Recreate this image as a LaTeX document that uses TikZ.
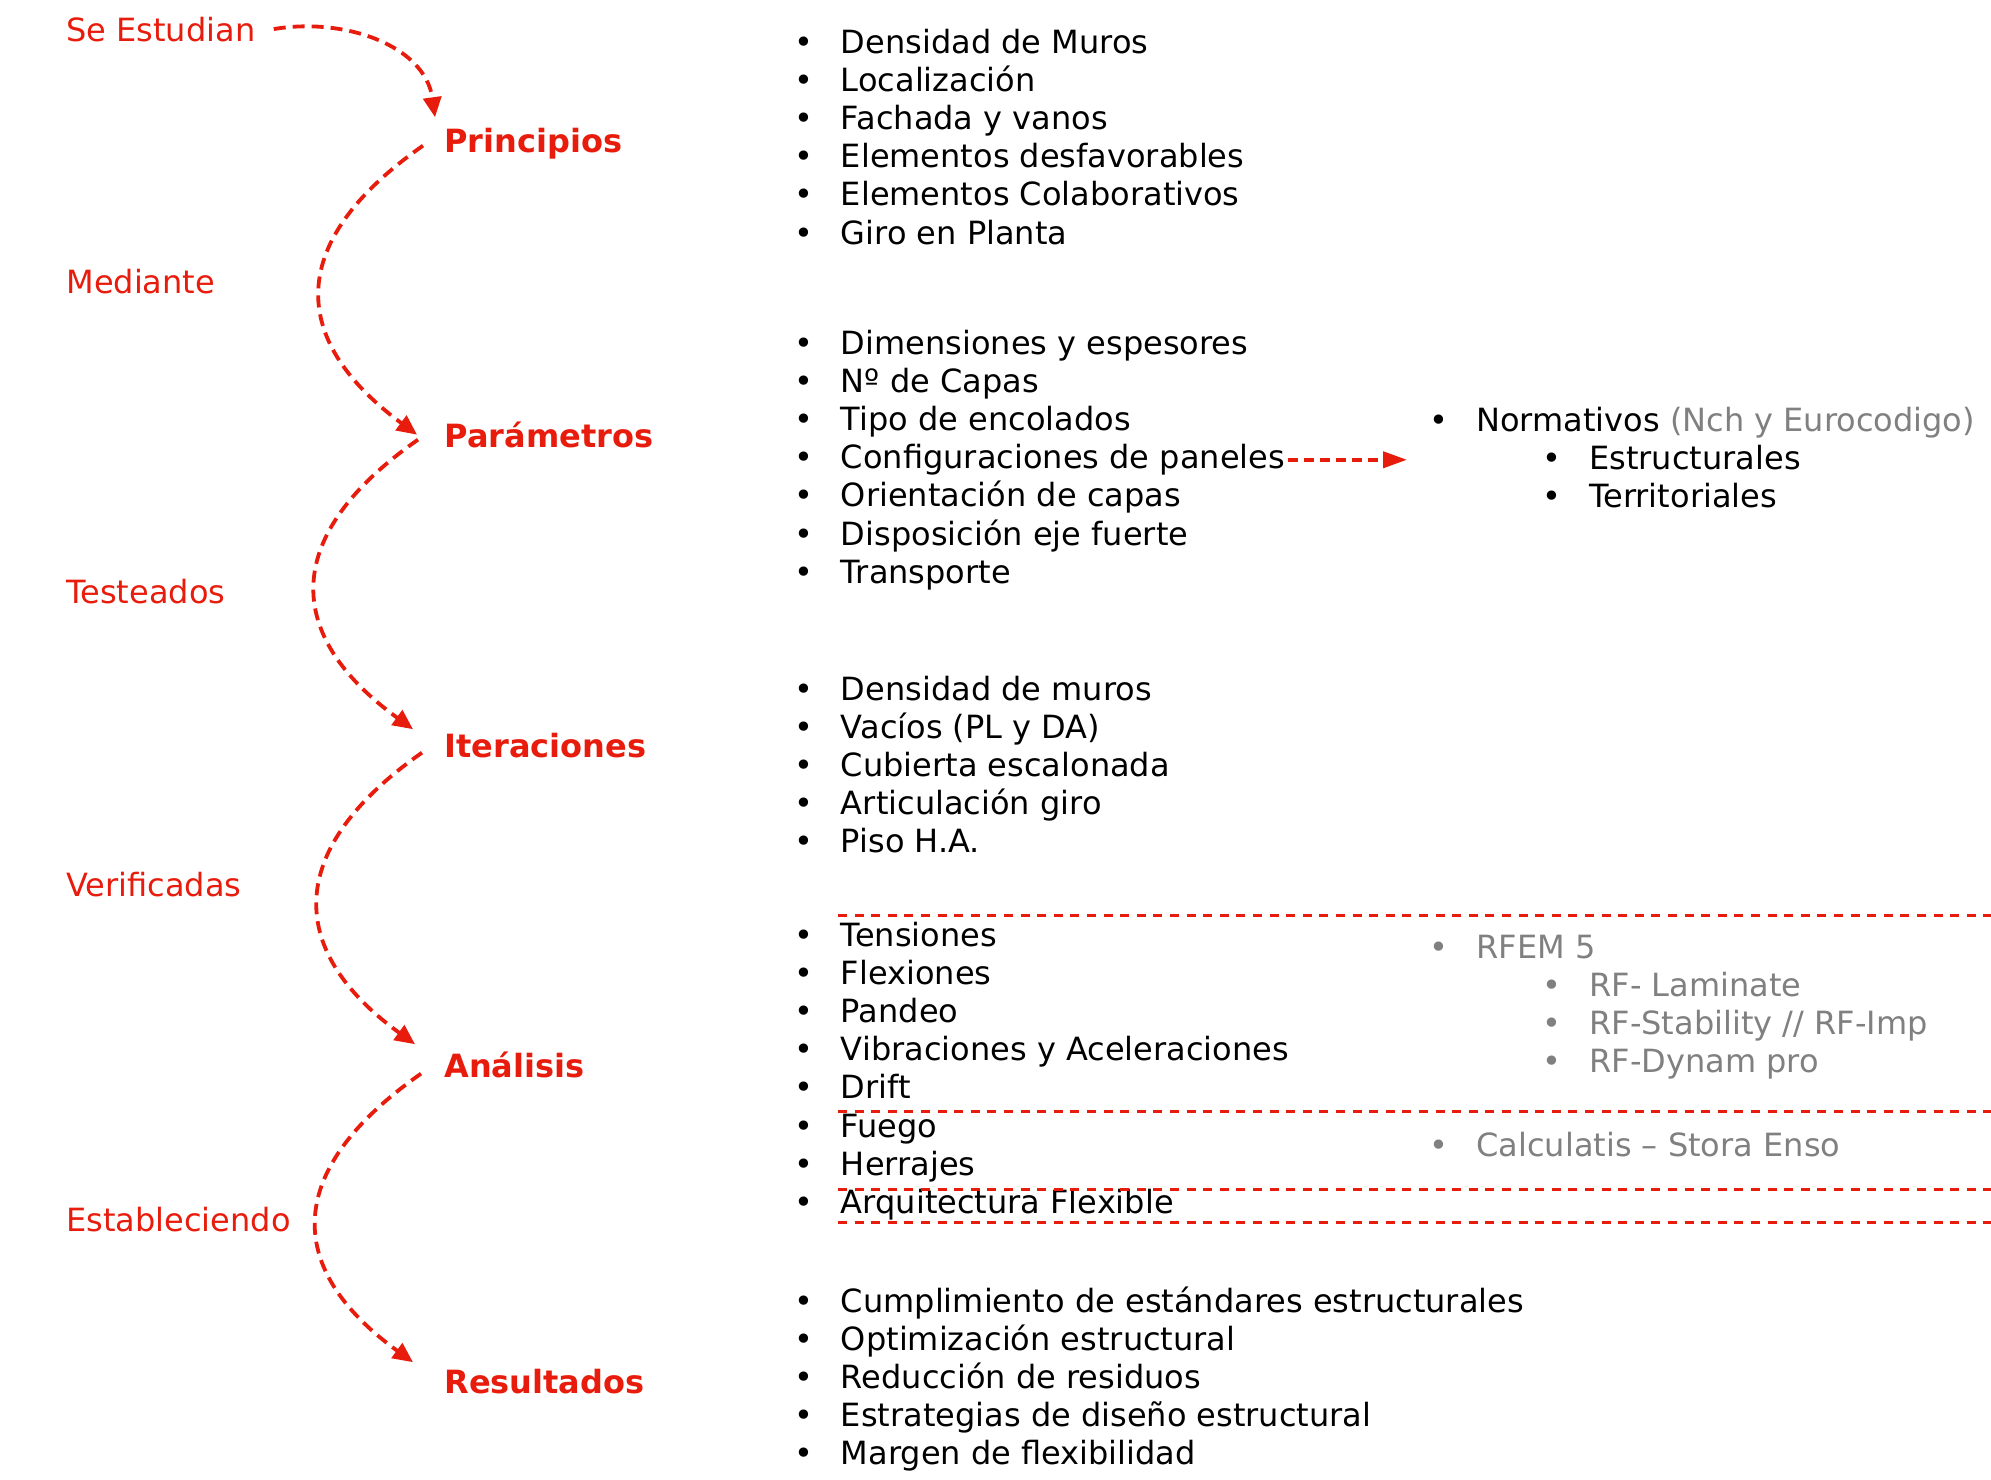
\documentclass[tikz,border=0pt]{standalone}
\usepackage{fontspec}
\setmainfont{DejaVu Sans}
\usetikzlibrary{arrows.meta}
\definecolor{rojo}{RGB}{232,28,12}
\definecolor{gris}{RGB}{128,128,128}
\newcommand{\bul}{\makebox[23.5pt][l]{\textbullet}}
\newcommand{\subbul}{\hspace*{56.5pt}\bul}
\tikzstyle{verbnode}  = [text=rojo, inner sep=0pt, anchor=base west, font=\fontsize{16}{19.1}\selectfont]
\tikzstyle{stagenode} = [text=rojo, inner sep=0pt, anchor=base west, text height=12.2pt, text depth=3.85pt, font=\fontsize{16}{19.1}\selectfont\bfseries]
% multi-line lists: base anchor sits on the last line
\tikzstyle{listnode}  = [inner sep=0pt, anchor=base west, align=left, font=\fontsize{16}{19.1}\selectfont]
\tikzstyle{flow}    = [draw=rojo, line width=1.9pt, dash pattern=on 6pt off 3.5pt, -{Triangle[length=10pt,width=9pt]}]
\tikzstyle{jump}    = [draw=rojo, line width=2pt, dash pattern=on 5pt off 3pt, -{Triangle[length=12pt,width=8pt]}]
\tikzstyle{cutline} = [draw=rojo, line width=1.5pt, dash pattern=on 4.5pt off 3.8pt]
\begin{document}
\begin{tikzpicture}[x=0.5pt, y=0.5pt]
	\useasboundingbox (0,0) rectangle (1991,-1479);

	% left column
	\node [verbnode]  (se)   at (66,-41)    {Se Estudian};
	\node [stagenode] (prin) at (444,-152)  {Principios};
	\node [verbnode]  (med)  at (66,-293)   {Mediante};
	\node [stagenode] (par)  at (444,-447)  {Parámetros};
	\node [verbnode]  (test) at (66,-603)   {Testeados};
	\node [stagenode] (iter) at (444,-757)  {Iteraciones};
	\node [verbnode]  (ver)  at (66,-896)   {Verificadas};
	\node [stagenode] (ana)  at (444,-1077) {Análisis};
	\node [verbnode]  (est)  at (66,-1231)  {Estableciendo};
	\node [stagenode] (res)  at (444,-1393) {Resultados};

	% bullet lists
	\node [listnode] (prinlist) at (793.6,-244) {\bul Densidad de Muros\\ \bul Localización\\ \bul Fachada y vanos\\
		\bul Elementos desfavorables\\ \bul Elementos Colaborativos\\ \bul Giro en Planta};
	\node [listnode] (parlist) at (793.6,-430.4) {\bul Dimensiones y espesores\\ \bul Nº de Capas\\ \bul Tipo de encolados};
	\node [listnode] (conf) at (793.6,-468.6) {\bul Configuraciones de paneles};
	\node [listnode] (parlist2) at (793.6,-583.2) {\bul Orientación de capas\\ \bul Disposición eje fuerte\\ \bul Transporte};
	\node [listnode] (iterlist) at (793.6,-852.8) {\bul Densidad de muros\\ \bul Vacíos (PL y DA)\\ \bul Cubierta escalonada\\
		\bul Articulación giro\\ \bul Piso H.A.};
	\node [listnode] (analist) at (793.6,-1213.4) {\bul Tensiones\\ \bul Flexiones\\ \bul Pandeo\\ \bul Vibraciones y Aceleraciones\\
		\bul Drift\\ \bul Fuego\\ \bul Herrajes\\ \bul Arquitectura Flexible};
	\node [listnode] (reslist) at (793.6,-1464.8) {\bul Cumplimiento de estándares estructurales\\ \bul Optimización estructural\\
		\bul Reducción de residuos\\ \bul Estrategias de diseño estructural\\ \bul Margen de flexibilidad};

	% right column
	\node [listnode] (normas) at (1429,-507.4) {\bul Normativos \textcolor{gris}{(Nch y Eurocodigo)}\\ \subbul Estructurales\\ \subbul Territoriales};
	\node [listnode, text=gris] (rfem) at (1429,-1072.6) {\bul RFEM 5\\ \subbul RF- Laminate\\ \subbul RF-Stability // RF-Imp\\ \subbul RF-Dynam pro};
	\node [listnode, text=gris] (calc) at (1429,-1156) {\bul Calculatis – Stora Enso};

	% dashed separators
	\draw [cutline] (838,-915) -- (1991,-915);
	\draw [cutline] (838,-1111) -- (1991,-1111);
	\draw [cutline] (838,-1189) -- (1991,-1189);
	\draw [cutline] (838,-1222) -- (1991,-1222);

	% curved arrows
	\draw [flow] ([xshift=9pt]se.east) .. controls +(70,12) and +(-10,72) .. ([shift={(-9,10)}]prin.north west);
	\draw [flow] ([shift={(-21,-2)}]prin.west) .. controls +(-136,-95) and +(-130,96) .. ([shift={(-27,4)}]par.west);
	\draw [flow] ([shift={(-26,-1)}]par.west) .. controls +(-136,-95) and +(-131,95) .. ([shift={(-31,3)}]iter.north west);
	\draw [flow] ([shift={(-22,-4)}]iter.west) .. controls +(-136,-95) and +(-131,95) .. ([shift={(-29,8)}]ana.north west);
	\draw [flow] ([shift={(-23,-5)}]ana.west) .. controls +(-136,-95) and +(-131,95) .. ([shift={(-31,6)}]res.north west);

	% paneles to normativos
	\draw [jump, shorten <=1.5pt, shorten >=11pt] (conf.east) -- (conf.east -| normas.west);
\end{tikzpicture}
\end{document}
